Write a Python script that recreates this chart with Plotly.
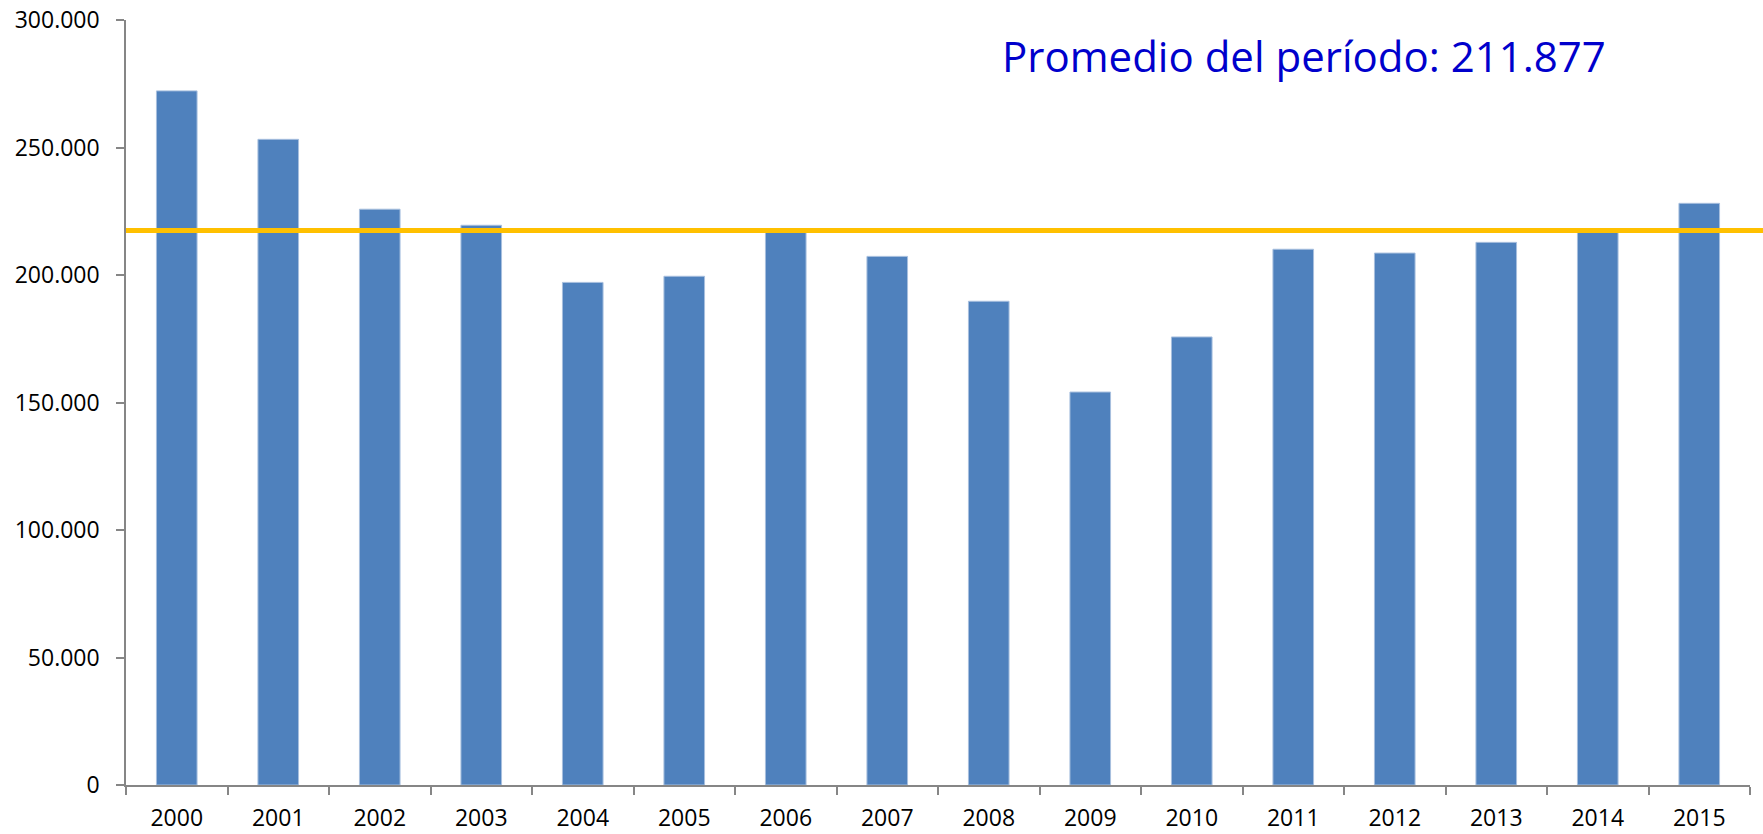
import plotly.graph_objects as go

years = ["2000", "2001", "2002", "2003", "2004", "2005", "2006", "2007",
         "2008", "2009", "2010", "2011", "2012", "2013", "2014", "2015"]
values = [272200, 253200, 225800, 219500, 197100, 199500, 217800, 207300,
          189700, 154100, 175700, 210100, 208600, 212800, 218200, 228100]
average_line = 217500
average_label = "Promedio del período: 211.877"

fig = go.Figure()
fig.add_trace(go.Bar(
    x=years, y=values,
    marker=dict(color="#4F81BD", line=dict(color="#A7BFDE", width=1)),
    showlegend=False,
))

fig.add_shape(type="line", xref="paper", yref="y",
              x0=0, x1=1.01, y0=average_line, y1=average_line,
              line=dict(color="#FFC000", width=5), layer="above")

fig.add_annotation(text=average_label, xref="paper", yref="paper",
                   x=0.538, y=0.954, xanchor="left", yanchor="middle",
                   showarrow=False,
                   font=dict(family="Open Sans", size=42, color="#0000CC"))

fig.update_layout(
    width=1763, height=834,
    margin=dict(l=126, r=13, t=20, b=49, autoexpand=False),
    paper_bgcolor="white", plot_bgcolor="white",
    bargap=0.6,
    separators=",.",
    font=dict(family="Open Sans", size=23, color="black"),
)
fig.update_xaxes(
    type="category", showline=True, linecolor="#868686", linewidth=1.5,
    ticks="outside", ticklen=8, tickcolor="#868686", tickwidth=1.5,
    tickson="boundaries", showgrid=False, ticklabelstandoff=12,
)
fig.update_yaxes(
    range=[0, 300000], tickvals=[0, 50000, 100000, 150000, 200000, 250000, 300000],
    tickformat=",d", showline=True, linecolor="#868686", linewidth=1.5,
    ticks="outside", ticklen=8, tickcolor="#868686", tickwidth=1.5,
    showgrid=False, zeroline=False, ticklabelstandoff=12,
    ticklabeloverflow="allow",
)

fig.write_html("out.html", config={"displayModeBar": False},
               post_script="document.body.style.margin='0';document.body.style.overflow='hidden';")
